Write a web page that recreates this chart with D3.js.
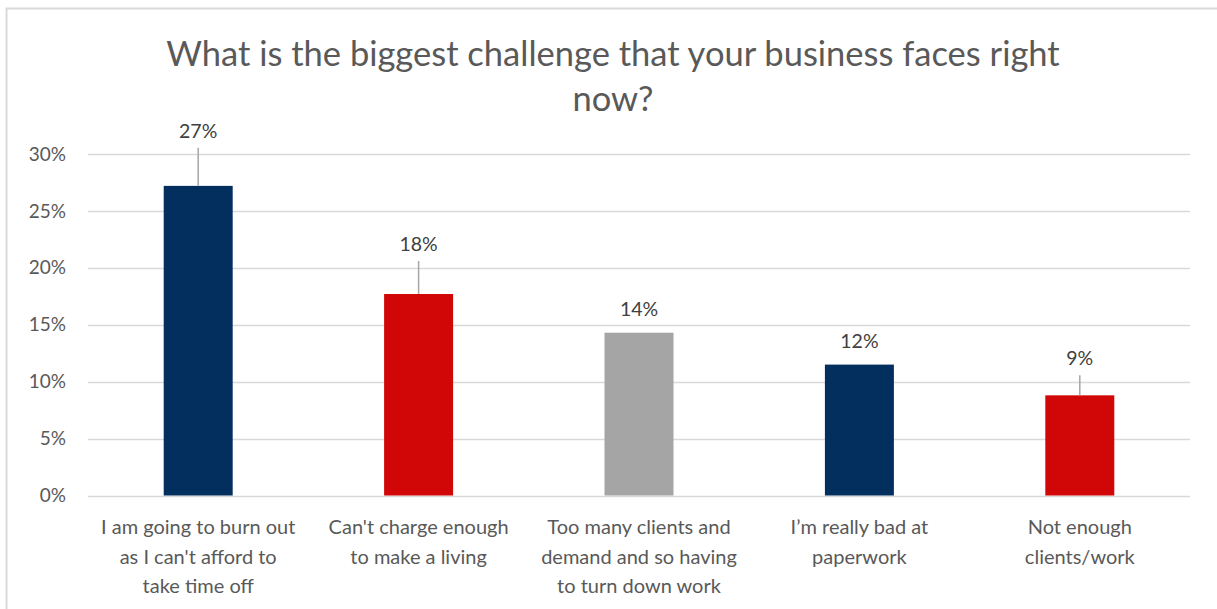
<!DOCTYPE html>
<html>
<head>
<meta charset="utf-8">
<script src="https://cdn.jsdelivr.net/npm/d3@7"></script>
<style>
  html, body { margin: 0; padding: 0; background: #fff; }
  svg { display: block; }
  text { font-family: Lato, "Open Sans", "Liberation Sans", sans-serif; }
</style>
</head>
<body>
<svg id="chart" width="1217" height="609"></svg>
<script>
// Survey responses: share of respondents naming each challenge
const categories = [
  ["I am going to burn out", "as I can't afford to", "take time off"],
  ["Can't charge enough", "to make a living"],
  ["Too many clients and", "demand and so having", "to turn down work"],
  ["I\u2019m really bad at", "paperwork"],
  ["Not enough", "clients/work"]
];
const values = [0.272, 0.177, 0.143, 0.115, 0.088];
const barColors = ["#032F5E", "#D10707", "#A5A5A5", "#032F5E", "#D10707"];
const yTicks = [0, 0.05, 0.10, 0.15, 0.20, 0.25, 0.30];
const titleLines = ["What is the biggest challenge that your business faces right", "now?"];

const W = 1217, H = 609;
const margin = { left: 88, right: 27, top: 154, bottom: 113 };
const svg = d3.select("#chart");

// chart frame
svg.append("rect")
  .attr("x", 6.5).attr("y", 8.5)
  .attr("width", W + 10).attr("height", H + 10)
  .attr("fill", "none").attr("stroke", "#D9D9D9").attr("stroke-width", 2);

const x = d3.scaleBand()
  .domain(d3.range(values.length))
  .range([margin.left, W - margin.right])
  .paddingInner(0.687).paddingOuter(0.3435);

const y = d3.scaleLinear()
  .domain([0, 0.30])
  .range([H - margin.bottom - 0.5, margin.top]);

// gridlines
svg.append("g")
  .selectAll("line").data(yTicks).join("line")
  .attr("x1", margin.left).attr("x2", W - margin.right)
  .attr("y1", d => Math.round(y(d)) + 0.5).attr("y2", d => Math.round(y(d)) + 0.5)
  .attr("stroke", "#D9D9D9").attr("stroke-width", 1.5);

// y axis labels
const yAxis = d3.axisLeft(y).tickValues(yTicks).tickFormat(d3.format(".0%")).tickSize(0).tickPadding(0);
const yg = svg.append("g").attr("transform", `translate(${margin.left - 22},0)`).call(yAxis);
yg.select(".domain").remove();
yg.selectAll("text")
  .attr("font-size", 19).attr("fill", "#595959")
  .style("font-family", "Lato, 'Open Sans', sans-serif");

// bars
svg.append("g")
  .selectAll("rect").data(values).join("rect")
  .attr("x", (d, i) => x(i))
  .attr("width", x.bandwidth())
  .attr("y", d => y(d))
  .attr("height", d => y(0) - y(d))
  .attr("fill", (d, i) => barColors[i]);

// data labels; some are lifted above the bar with a leader line
const labelLift = [39, 34, 8, 8, 21];
const fmt = d3.format(".0%");
const lab = svg.append("g");
values.forEach((v, i) => {
  const cx = x(i) + x.bandwidth() / 2;
  const top = y(v);
  const baseline = top - labelLift[i] - 8;
  if (labelLift[i] > 10) {
    lab.append("line")
      .attr("x1", cx).attr("x2", cx)
      .attr("y1", top).attr("y2", baseline + 9)
      .attr("stroke", "#A6A6A6").attr("stroke-width", 1.5);
  }
  lab.append("text")
    .attr("x", cx).attr("y", baseline - 1)
    .attr("text-anchor", "middle")
    .attr("font-size", 19.5).attr("fill", "#404040")
    .text(fmt(v));
});

// category labels
const cat = svg.append("g");
categories.forEach((lines, i) => {
  const cx = x(i) + x.bandwidth() / 2;
  lines.forEach((ln, j) => {
    cat.append("text")
      .attr("x", cx).attr("y", 534 + j * 29.5)
      .attr("text-anchor", "middle")
      .attr("font-size", 20).attr("fill", "#595959")
      .text(ln);
  });
});

// title
const tg = svg.append("g");
titleLines.forEach((t, j) => {
  tg.append("text")
    .attr("x", 613).attr("y", 66 + j * 45)
    .attr("text-anchor", "middle")
    .attr("font-size", 34.5).attr("fill", "#595959")
    .text(t);
});
</script>
</body>
</html>
